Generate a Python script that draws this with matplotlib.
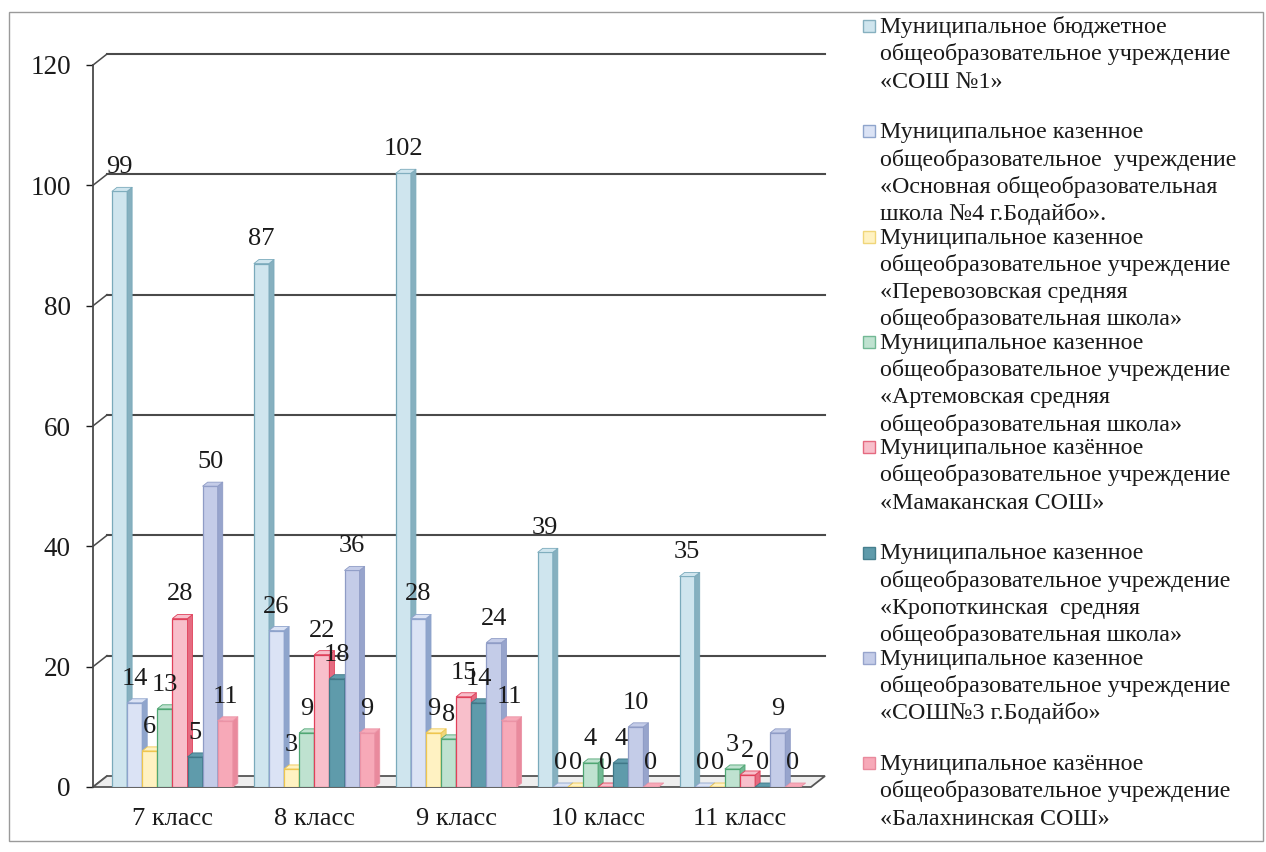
import numpy as np
import matplotlib
matplotlib.use('Agg')
import matplotlib.pyplot as plt
from matplotlib.patches import Polygon, Rectangle
from matplotlib.collections import PolyCollection

plt.rcParams['font.family'] = ['Liberation Serif', 'DejaVu Serif']

classes = ['7 класс', '8 класс', '9 класс', '10 класс', '11 класс']

school1 = [99, 87, 102, 39, 35]
school4 = [14, 26, 28, 0, 0]
perevoz = [6, 3, 9, 0, 0]
artem = [13, 9, 8, 4, 3]
mamakan = [28, 22, 15, 0, 2]
kropot = [5, 18, 14, 4, 0]
school3 = [50, 36, 24, 10, 9]
balakhn = [11, 9, 11, 0, 0]

legend_texts = [
    ['Муниципальное бюджетное', 'общеобразовательное учреждение', '«СОШ №1»'],
    ['Муниципальное казенное', 'общеобразовательное  учреждение',
     '«Основная общеобразовательная', 'школа №4 г.Бодайбо».'],
    ['Муниципальное казенное', 'общеобразовательное учреждение',
     '«Перевозовская средняя', 'общеобразовательная школа»'],
    ['Муниципальное казенное', 'общеобразовательное учреждение',
     '«Артемовская средняя', 'общеобразовательная школа»'],
    ['Муниципальное казённое', 'общеобразовательное учреждение', '«Мамаканская СОШ»'],
    ['Муниципальное казенное', 'общеобразовательное учреждение',
     '«Кропоткинская  средняя', 'общеобразовательная школа»'],
    ['Муниципальное казенное', 'общеобразовательное учреждение', '«СОШ№3 г.Бодайбо»'],
    ['Муниципальное казённое', 'общеобразовательное учреждение', '«Балахнинская СОШ»'],
]

series = [school1, school4, perevoz, artem, mamakan, kropot, school3, balakhn]
# front face, side, edge
face_cols = ['#cfe5ee', '#dbe3f5', '#fff2c2', '#bfe2d0', '#f8bfcb', '#5f9bab', '#c4cce8', '#f7a9b8']
side_cols = ['#86b0bf', '#8fa5cc', '#f0d67a', '#72b894', '#e56a80', '#467f8e', '#97a4cc', '#e98a9d']
edge_cols = ['#7aaabb', '#8ea3cc', '#efc64e', '#4fa673', '#e0405a', '#3f7888', '#8f9cc6', '#eb93a6']

W, H = 1266, 852
fig = plt.figure(figsize=(W / 100, H / 100), dpi=100)
ax = fig.add_axes([93 / W, 65 / H, 718 / W, 722 / H])
ax.set_xlim(-0.56, 4.5)
ax.set_ylim(0, 120)

ppx = 718 / 5.06
ppy = 722 / 120
w = 15.1 / ppx
bdx, bdy = 5 / ppx, 4 / ppy
wdx, wdy = 14 / ppx, 11 / ppy
xl0, xl1 = ax.get_xlim()

# back wall grid lines and slanted ticks
yt = np.arange(0, 121, 20)
for v in yt:
    if v > 0:
        ax.plot([xl0 + wdx, xl1 + wdx], [v + wdy, v + wdy], color='#4a4a4a', lw=1.5,
                clip_on=False, zorder=1)
    ax.plot([xl0, xl0 + wdx], [v, v + wdy], color='#4a4a4a', lw=1.1, clip_on=False, zorder=1)

# floor
floor = Polygon([(xl0, 0), (xl1, 0), (xl1 + wdx, wdy), (xl0 + wdx, wdy)], closed=True,
                facecolor='#eeeeee', edgecolor='#555555', lw=1.3, clip_on=False, zorder=1.5)
ax.add_patch(floor)

x = np.arange(len(classes))
for s, vals in enumerate(series):
    xs = x - 0.426 + s * w
    z = 2 + s * 0.1
    ax.bar(xs, vals, width=w, align='edge', color=face_cols[s], edgecolor=edge_cols[s],
           lw=0.9, zorder=z)
    sides, tops = [], []
    for x0, v in zip(xs, vals):
        sides.append([(x0 + w, 0), (x0 + w + bdx, bdy), (x0 + w + bdx, v + bdy), (x0 + w, v)])
        tops.append([(x0, v), (x0 + bdx, v + bdy), (x0 + w + bdx, v + bdy), (x0 + w, v)])
    ax.add_collection(PolyCollection(sides, facecolors=side_cols[s], edgecolors=edge_cols[s],
                                     linewidths=0.6, zorder=z))
    ax.add_collection(PolyCollection(tops, facecolors=face_cols[s], edgecolors=edge_cols[s],
                                     linewidths=0.6, zorder=z))
    for x0, v in zip(xs, vals):
        ax.annotate(str(v), (x0 + w / 2, v), xytext=(0, 13), textcoords='offset points',
                    ha='center', va='baseline', fontsize=19, color='#1a1a1a', zorder=10)

ax.set_yticks(yt)
ax.set_xticks(x)
ax.set_xticklabels(classes)
ax.tick_params(axis='y', length=5, width=1, pad=11, labelsize=19.5, colors='#1a1a1a')
ax.tick_params(axis='x', length=0, pad=15, labelsize=19, colors='#1a1a1a')
for sp in ['top', 'right', 'bottom']:
    ax.spines[sp].set_visible(False)
ax.spines['left'].set_color('#4a4a4a')
ax.spines['left'].set_linewidth(1.3)
ax.patch.set_alpha(0)

# outer frame
fig.patches.append(Rectangle((9 / W, 1 - 841 / H), 1254 / W, 829 / H, transform=fig.transFigure,
                             fill=False, edgecolor='#9a9a9a', lw=1.0))

# legend, drawn as text lines
for i, lines in enumerate(legend_texts):
    base = 33 + i * 105.3
    fig.patches.append(Rectangle((863 / W, 1 - (base - 1) / H), 12 / W, 12 / H,
                                 transform=fig.transFigure, facecolor=face_cols[i],
                                 edgecolor=side_cols[i], lw=1.0))
    for k, t in enumerate(lines):
        fig.text(880 / W, 1 - (base + k * 27.3) / H, t, fontsize=17.3, ha='left',
                 va='baseline', color='#1a1a1a')

fig.savefig('out.png', dpi=100)
